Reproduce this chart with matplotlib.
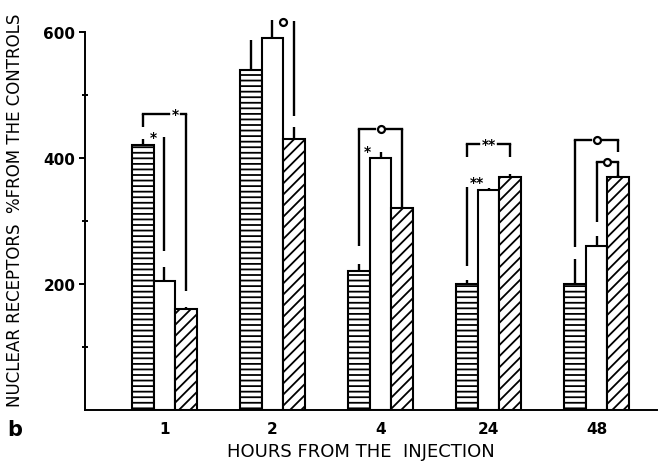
import matplotlib
matplotlib.use("Agg")
import matplotlib.pyplot as plt
import numpy as np

plt.rcParams['font.family'] = ['DejaVu Sans']
plt.rcParams['hatch.linewidth'] = 1.3

hours = ['1', '2', '4', '24', '48']
striped = [420, 540, 220, 200, 200]
blank = [205, 590, 400, 350, 260]
hatched = [160, 430, 320, 370, 370]
err_striped = [10, 47, 12, 6, 40]
err_blank = [22, 29, 10, 2, 16]
err_hatched = [3, 19, 12, 4, 3]

w = 0.2
off = [-w, 0, w]
x = np.arange(len(hours))

fig = plt.figure(figsize=(6.69, 4.64), dpi=100)
ax = fig.add_axes([85 / 669, 53 / 464, 572 / 669, 403.2 / 464])

series = [(striped, err_striped, '---'), (blank, err_blank, ''), (hatched, err_hatched, '///')]
for k, (vals, errs, hatch) in enumerate(series):
    ax.bar(x + off[k], vals, w, color='white', edgecolor='black', linewidth=1.5, hatch=hatch)
    for xi, v, e in zip(x + off[k], vals, errs):
        ax.plot([xi, xi], [v, v + e], color='black', lw=1.7, solid_capstyle='butt')


def mark(xp, yp, sym):
    if sym == 'o':
        ax.plot(xp, yp, 'o', ms=5, mfc='white', mec='black', mew=1.6)
    else:
        ax.text(xp, yp, sym, ha='center', va='center', fontsize=10, fontweight='bold')


def vline(xp, y0, y1):
    ax.plot([xp, xp], [y0, y1], color='black', lw=1.7, solid_capstyle='butt')


def bracket(g, b0, b1, y, y0, y1, sym, sx=0.0, gap=0.055):
    x0 = g + off[b0]
    x1 = g + off[b1]
    s = g + sx
    vline(x0, y0, y)
    vline(x1, y, y1)
    ax.plot([x0, s - gap], [y, y], color='black', lw=1.7)
    if s + gap < x1:
        ax.plot([s + gap, x1], [y, y], color='black', lw=1.7)
    mark(s, y, sym)


# 1 h
bracket(0, 0, 2, 470, 449, 189, '*', sx=0.1)
mark(-0.1, 433, '*')
vline(0, 252, 433)
# 2 h
mark(1 + 0.1, 616, 'o')
vline(1 + 0.2, 467, 617)
# 4 h
bracket(2, 0, 2, 446, 260, 332, 'o')
mark(2 - 0.12, 411, '*')
# 24 h
bracket(3, 0, 2, 422, 402, 402, '**', gap=0.09)
mark(3 - 0.11, 362, '**')
vline(3 - 0.2, 229, 354)
# 48 h
bracket(4, 0, 2, 429, 259, 410, 'o')
bracket(4, 1, 2, 394, 298, 371, 'o', sx=0.1, gap=0.045)

ax.set_xlim(-0.736, 4.56)
ax.set_ylim(0, 640)
ax.spines['top'].set_visible(False)
ax.spines['right'].set_visible(False)
ax.spines['left'].set_bounds(0, 600)
ax.spines['left'].set_linewidth(1.4)
ax.spines['bottom'].set_linewidth(1.4)

ax.set_xticks(x)
ax.set_xticklabels(hours, fontsize=11, fontweight='bold')
ax.tick_params(axis='x', length=0, pad=8)
ax.set_yticks([200, 400, 600])
ax.set_yticklabels(['200', '400', '600'], fontsize=11, fontweight='bold')
ax.set_yticks([100, 300, 500], minor=True)
ax.tick_params(axis='y', which='major', direction='out', length=4, width=1.4, pad=3)
ax.tick_params(axis='y', which='minor', direction='inout', length=5, width=1.4)

fig.text(15 / 669, 1 - 210 / 464, 'NUCLEAR RECEPTORS  %FROM THE CONTROLS',
         rotation=90, ha='center', va='center', fontsize=12)
fig.text(361 / 669, 1 - 452 / 464, 'HOURS FROM THE  INJECTION',
         ha='center', va='center', fontsize=13)
fig.text(15 / 669, 1 - 430 / 464, 'b', ha='center', va='center', fontsize=15, fontweight='bold')

fig.savefig('out.png', dpi=100)
